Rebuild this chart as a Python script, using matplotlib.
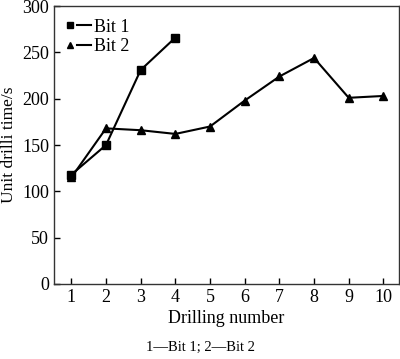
import numpy as np
import matplotlib.pyplot as plt
from matplotlib.legend_handler import HandlerLine2DCompound

plt.rcParams['font.family'] = ['Liberation Serif', 'DejaVu Serif']

drill_1 = [1, 2, 3, 4]
bit_1 = [118, 150, 231, 266]
drill_2 = [1, 2, 3, 4, 5, 6, 7, 8, 9, 10]
bit_2 = [115, 168, 166, 162, 170, 198, 224, 244, 201, 203]
xticks = list(range(1, 11))
yticks = [0, 50, 100, 150, 200, 250, 300]


class MarkerFirst(HandlerLine2DCompound):
    # marker on the left, short dash after it
    def get_xdata(self, legend, xdescent, ydescent, width, height, fontsize):
        line_x = [-xdescent + 0.42 * width, -xdescent + 0.98 * width]
        return line_x, [-xdescent + 0.12 * width]


fig = plt.figure(figsize=(4, 3.59), dpi=100)
ax = fig.add_axes([0.135, 0.209, 0.8625, 0.774])

ax.plot(drill_1, bit_1, color='black', lw=1.5, marker='s', ms=5.5, label='Bit 1')
ax.plot(drill_2, bit_2, color='black', lw=1.5, marker='^', ms=5.5, label='Bit 2')

ax.set_xlim(0.5, 10.45)
ax.set_ylim(0, 300)
ax.set_xticks(xticks)
ax.set_yticks(yticks)
ax.tick_params(direction='in', labelsize=13, length=4, width=1)
for s in ax.spines.values():
    s.set_linewidth(1)
    s.set_color('#333333')

ax.set_xlabel('Drilling number', fontsize=13, labelpad=3)
ax.set_ylabel('Unit drilli time/s', fontsize=12.5, labelpad=4)

ax.legend(loc='upper left', frameon=False, fontsize=13, handlelength=1.35,
          handletextpad=0.15, labelspacing=0.12, borderaxespad=0.3, numpoints=1,
          markerscale=0.8, handler_map={plt.Line2D: MarkerFirst()})

fig.text(0.5, 0.031, '1\u2014Bit 1; 2\u2014Bit 2', ha='center', va='center', fontsize=10.5)

fig.savefig('out.png', dpi=100)
